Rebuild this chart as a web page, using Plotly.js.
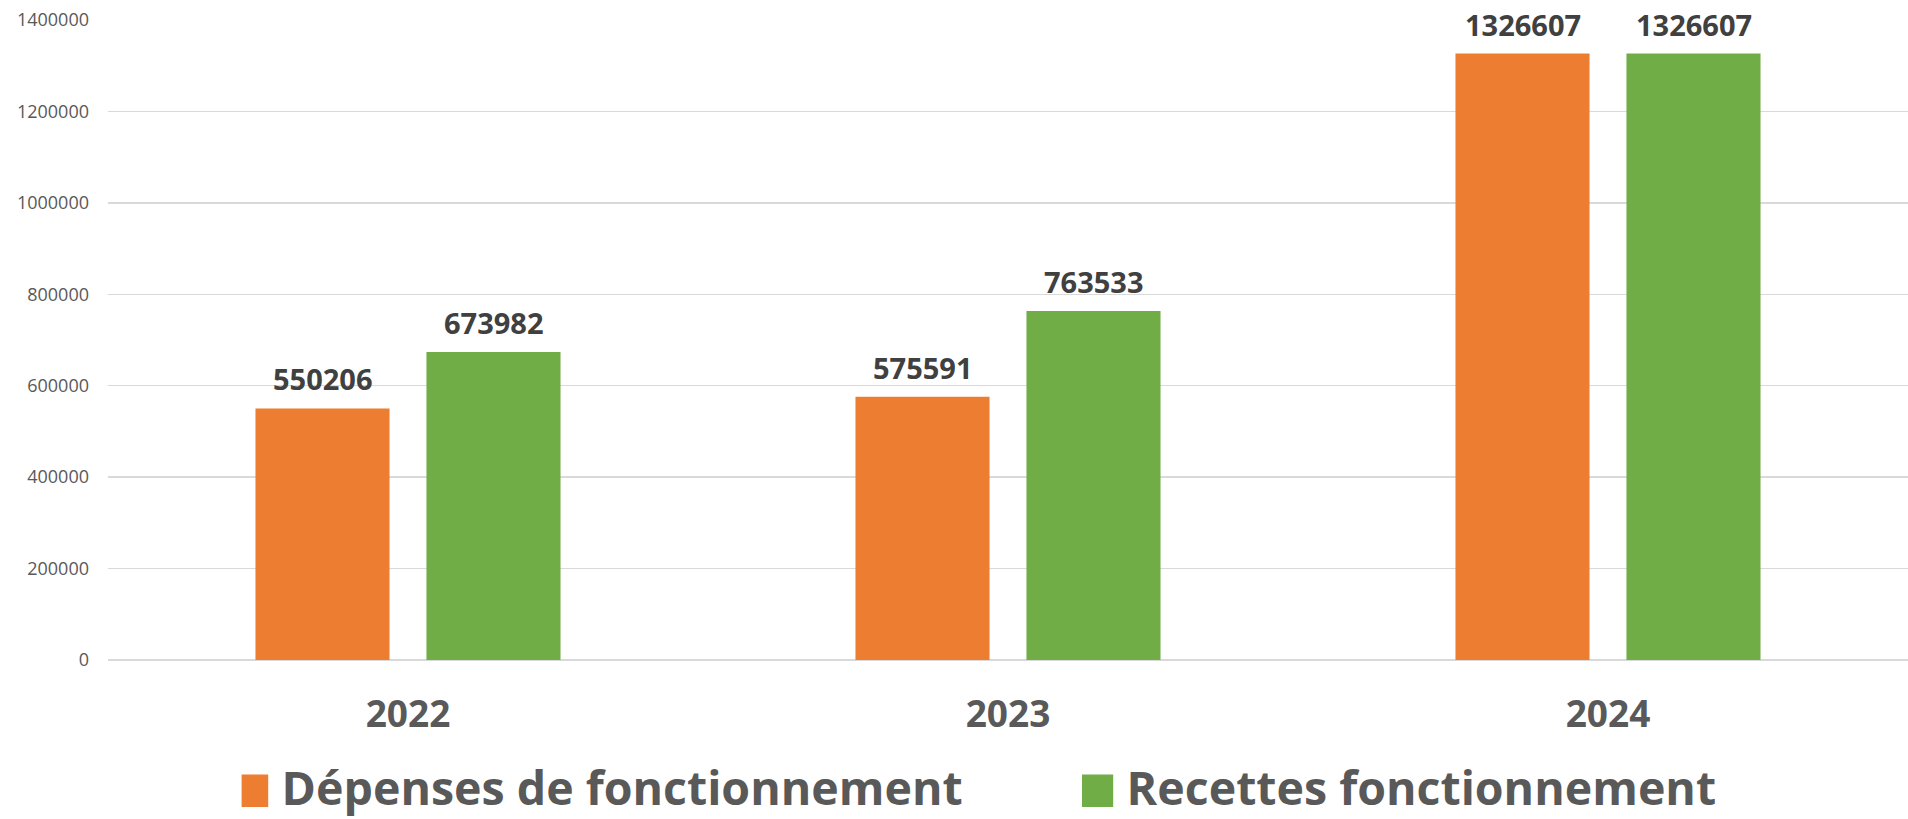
<!DOCTYPE html>
<html>
<head>
<meta charset="utf-8">
<script src="https://cdn.plot.ly/plotly-3.0.1.min.js"></script>
<style>html,body{margin:0;padding:0;background:#fff;}#chart{width:1908px;height:819px;}</style>
</head>
<body>
<div id="chart"></div>
<script>
const years = ['2022', '2023', '2024'];
const depenses = [550206, 575591, 1326607];
const recettes = [673982, 763533, 1326607];
const seriesNames = ['Dépenses de fonctionnement', 'Recettes fonctionnement'];
const yTicks = [0, 200000, 400000, 600000, 800000, 1000000, 1200000, 1400000];

const FONT = '"Open Sans", "Noto Sans", sans-serif';
const colors = ['#ED7D31', '#70AD47'];
const allSeries = [depenses, recettes];

const traces = allSeries.map((vals, i) => ({
  type: 'bar',
  name: seriesNames[i],
  x: years,
  y: vals,
  marker: {color: colors[i], line: {width: 0}},
  hoverinfo: 'none'
}));

const SLOT = 85.5;
const annotations = [];
allSeries.forEach((vals, i) => {
  vals.forEach((v, j) => {
    annotations.push({
      x: j, y: v, xref: 'x', yref: 'y',
      text: String(v), showarrow: false,
      xanchor: 'center', yanchor: 'bottom',
      xshift: i === 0 ? -SLOT : SLOT, yshift: 8,
      font: {family: FONT, size: 29, color: '#404040', weight: 'bold'}
    });
  });
});

const layout = {
  width: 1908, height: 819,
  margin: {l: 108, r: 0, t: 20, b: 159, pad: 0},
  paper_bgcolor: '#ffffff', plot_bgcolor: '#ffffff',
  barmode: 'group', bargap: 0.43, bargroupgap: 0.216,
  showlegend: true,
  legend: {
    orientation: 'h', xref: 'container', yref: 'container',
    x: 0.5695, xanchor: 'center', y: 0.039, yanchor: 'middle',
    font: {family: FONT, size: 46.5, color: '#595959', weight: 'bold'},
    entrywidth: 800, entrywidthmode: 'pixels',
    bgcolor: 'rgba(0,0,0,0)'
  },
  xaxis: {
    type: 'category', categoryorder: 'array', categoryarray: years,
    range: [-0.5, years.length - 0.5],
    showgrid: false, zeroline: false, showline: false,
    ticks: '', ticklabelstandoff: 29, automargin: false,
    tickfont: {family: FONT, size: 37, color: '#595959', weight: 'bold'}
  },
  yaxis: {
    range: [0, 1400000], tickvals: yTicks, ticktext: yTicks.map(String),
    showgrid: true, gridcolor: '#d9d9d9', gridwidth: 1.5,
    zeroline: true, zerolinecolor: '#d9d9d9', zerolinewidth: 1.5,
    showline: false, ticks: '', ticklabelstandoff: 18, automargin: false,
    tickfont: {family: FONT, size: 18, color: '#595959'}
  },
  annotations: annotations
};

Plotly.newPlot('chart', traces, layout, {staticPlot: true, displayModeBar: false}).then(gd => {
  gd.querySelectorAll('.legend .legendpoints path').forEach(p => {
    p.setAttribute('transform', 'translate(11,4) scale(2.6,2.7)');
  });
});
</script>
</body>
</html>
